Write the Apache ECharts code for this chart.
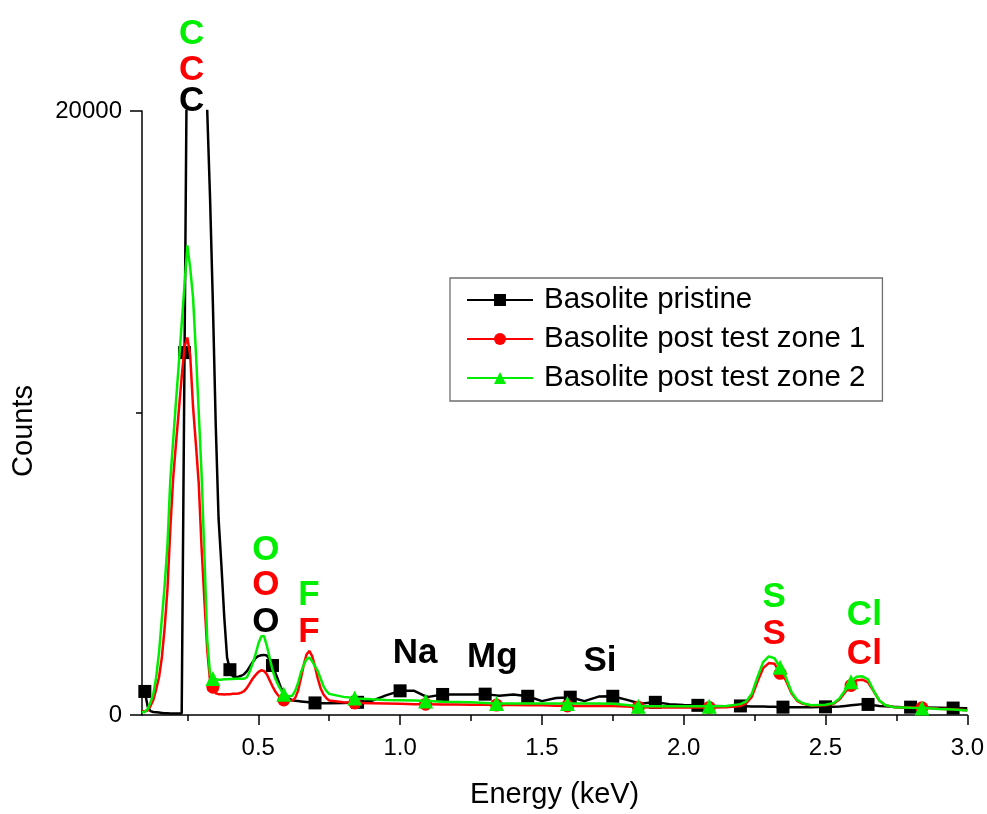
<!DOCTYPE html>
<html><head><meta charset="utf-8">
<script src="https://cdn.jsdelivr.net/npm/echarts@6/dist/echarts.min.js"></script>
<style>html,body{margin:0;padding:0;background:#fff}#c{width:987px;height:814px}</style>
</head><body><div id="c"></div>
<script>
// Energy grid (keV)
const energy = [
  0.09,0.10,0.11,0.12,0.13,0.14,0.15,0.16,0.17,0.18,0.19,0.20,0.21,0.22,0.23,0.24,0.25,0.26,0.27,0.28,
  0.29,0.30,0.31,0.32,0.33,0.34,0.35,0.36,0.37,0.38,0.39,0.40,0.41,0.42,0.43,0.44,0.45,0.46,0.47,0.48,
  0.49,0.50,0.51,0.52,0.53,0.54,0.55,0.56,0.57,0.58,0.59,0.60,0.61,0.62,0.63,0.64,0.65,0.66,0.67,0.68,
  0.69,0.70,0.71,0.72,0.73,0.74,0.75,
  0.80,0.84,0.85,0.90,0.95,1.00,1.05,1.09,1.10,1.15,1.20,1.25,1.30,1.34,1.35,1.40,1.45,1.50,1.55,1.59,
  1.60,1.65,1.70,1.75,1.80,1.84,1.85,1.90,1.95,2.00,2.05,2.09,2.10,2.15,2.20,
  2.22,2.24,2.26,2.28,2.30,2.32,2.34,2.35,2.36,2.38,2.40,2.42,2.45,2.50,2.53,2.55,2.57,2.59,2.61,2.63,
  2.65,2.67,2.69,2.71,2.74,2.77,2.80,2.84,2.85,2.90,2.95,3.00
];
// Counts: Basolite pristine
const pristine = [
  850,780,280,130,100,90,80,70,60,60,50,50,50,50,60,12000,24000,30000,32000,31000,
  28000,25000,22000,20000,17100,13600,9600,6500,4960,3250,1900,1500,1280,1250,1270,1300,1350,1450,1600,1750,
  1880,1950,1980,1990,1970,1850,1640,1400,1150,900,720,600,530,490,470,460,450,440,430,420,
  410,400,400,390,390,390,390,
  400,410,420,470,650,800,800,620,600,680,680,680,690,650,640,680,620,460,560,580,
  590,460,610,620,500,400,380,420,360,330,320,300,300,290,300,
  290,280,280,280,270,270,260,260,260,260,260,260,260,270,270,280,300,320,340,360,
  350,320,300,290,270,260,260,250,250,240,230,220
];
// Counts: Basolite post test zone 1
const zone1 = [
  130,120,150,300,500,850,1250,1900,2900,4200,6200,7850,9000,10100,11200,12200,12500,11900,10200,8970,
  7680,5550,3800,2160,1120,920,720,690,690,680,690,690,700,700,710,740,790,900,1050,1200,
  1320,1420,1480,1460,1350,1150,950,780,650,560,500,480,470,480,560,800,1200,1650,2000,2120,
  1950,1600,1200,880,680,560,480,
  420,400,400,390,380,370,360,360,360,350,350,340,340,330,330,330,320,320,310,300,
  300,300,310,300,280,260,260,250,250,250,250,250,250,260,300,
  380,600,1100,1550,1720,1700,1380,1300,1150,720,470,370,310,320,380,520,760,980,1150,1170,
  1080,780,470,330,260,250,250,240,240,210,190,160
];
// Counts: Basolite post test zone 2
const zone2 = [
  100,100,200,420,700,1250,2070,3190,4300,5680,7820,9100,10400,11660,12970,14250,15550,14800,13820,12020,
  10050,7980,5290,2500,1350,1210,1180,1170,1170,1180,1180,1190,1190,1200,1200,1200,1200,1250,1450,1700,
  2000,2350,2600,2620,2300,1900,1500,1200,1000,820,690,640,620,640,800,1050,1400,1650,1850,1900,
  1780,1620,1450,1200,950,800,700,
  600,560,550,520,500,490,480,460,460,440,430,420,400,380,380,380,380,380,380,380,
  380,380,380,370,330,290,290,290,290,290,290,290,290,300,360,
  450,700,1250,1750,1940,1880,1580,1450,1250,760,500,390,320,340,400,560,830,1100,1270,1280,
  1180,800,480,330,260,250,240,230,230,200,180,150
];
// Energies where the markers sit
const pristineMarkers = [0.10,0.24,0.40,0.55,0.70,0.85,1.00,1.15,1.30,1.45,1.60,1.75,1.90,2.05,2.20,2.35,2.50,2.65,2.80,2.95];
const zoneMarkers = [0.34,0.59,0.84,1.09,1.34,1.59,1.84,2.09,2.34,2.59,2.84];
const seriesNames = ['Basolite pristine','Basolite post test zone 1','Basolite post test zone 2'];
// Axis ticks
const xTickValues = [0.5,1.0,1.5,2.0,2.5,3.0];
const xMinorTickValues = [0.25,0.75,1.25,1.75,2.25,2.75];
// Peak labels (text, colour, energy keV, counts)
const peakText   = ['C','C','C','O','O','O','F','F','Na','Mg','Si','S','S','Cl','Cl'];
const peakColor  = ['#00ee00','#ff0000','#000000','#00ee00','#ff0000','#000000','#00ee00','#ff0000','#000000','#000000','#000000','#00ee00','#ff0000','#00ee00','#ff0000'];
const peakEnergy = [0.265,0.265,0.265,0.527,0.527,0.527,0.679,0.679,1.053,1.325,1.705,2.319,2.319,2.637,2.637];
const peakCounts = [22540,21360,20330,5465,4280,3070,3955,2740,2050,1920,1790,3890,2670,3300,2020];

const FONT = '"Liberation Sans", Arial, sans-serif';
const chart = echarts.init(document.getElementById('c'), null, {renderer:'canvas'});

function mk(vals){ return energy.map((e,i)=>[e, vals[i]]); }
function sizeFn(list, s){
  const set = new Set(list.map(v=>v.toFixed(2)));
  return function(val){ return set.has(val[0].toFixed(2)) ? s : 0; };
}
const colors = ['#000000','#ff0000','#00ee00'];
const symbols = ['rect','circle','triangle'];
const sizes = [13,13,15];
const datas = [pristine, zone1, zone2];
const markerLists = [pristineMarkers, zoneMarkers, zoneMarkers];

const series = seriesNames.map((n,k)=>({
  name:n, type:'line', xAxisIndex:0, yAxisIndex:0,
  data: mk(datas[k]),
  symbol: symbols[k],
  symbolSize: sizeFn(markerLists[k], sizes[k]),
  showSymbol:true, showAllSymbol:true,
  itemStyle:{color:colors[k]},
  lineStyle:{color:colors[k], width:2.5},
  clip:true, z: 2+k,
  emphasis:{disabled:true},
  animation:false
}));

const axisLineStyle = {color:'#000', width:1.5};
chart.setOption({
  animation:false,
  backgroundColor:'#fff',
  grid:{left:142, right:19, top:111, bottom:93, containLabel:false},
  legend:{
    orient:'vertical', left:450, top:278,
    padding:[6,17,7,16],
    borderColor:'#6f6f6f', borderWidth:1.3,
    itemWidth:66, itemHeight:15, itemGap:7,
    textStyle:{fontSize:29.5, fontFamily:FONT, color:'#000', lineHeight:32, padding:[0,0,0,6]},
    data:seriesNames
  },
  xAxis:[{
    type:'value', min:0.09, max:3.0, position:'bottom',
    name:'Energy (keV)', nameLocation:'middle', nameGap:65,
    nameTextStyle:{fontSize:29, fontFamily:FONT, color:'#000'},
    axisLine:{show:true, onZero:false, lineStyle:axisLineStyle},
    axisTick:{show:true, inside:false, length:10, lineStyle:axisLineStyle, customValues:xTickValues},
    axisLabel:{show:true, margin:21, fontSize:24, fontFamily:FONT, color:'#000', customValues:xTickValues,
      formatter:v=>Number(v).toFixed(1)},
    splitLine:{show:false}
  },{
    type:'value', min:0.09, max:3.0, position:'bottom',
    axisLine:{show:false},
    axisTick:{show:true, inside:false, length:6, lineStyle:axisLineStyle, customValues:xMinorTickValues},
    axisLabel:{show:false},
    splitLine:{show:false}
  }],
  yAxis:{
    type:'value', min:0, max:20000, interval:20000, position:'left',
    name:'Counts', nameLocation:'middle', nameGap:104, nameRotate:90,
    nameTextStyle:{fontSize:29, fontFamily:FONT, color:'#000', padding:[0,36,0,0]},
    axisLine:{show:true, onZero:false, lineStyle:axisLineStyle},
    axisTick:{show:true, inside:false, length:12, lineStyle:axisLineStyle},
    minorTick:{show:true, splitNumber:2, length:6, lineStyle:axisLineStyle},
    axisLabel:{show:true, margin:20, fontSize:24, fontFamily:FONT, color:'#000', formatter:v=>String(v)},
    splitLine:{show:false}, minorSplitLine:{show:false}
  },
  series:series
});

const graphics = peakText.map((t,i)=>{
  const p = chart.convertToPixel({xAxisIndex:0, yAxisIndex:0}, [peakEnergy[i], peakCounts[i]]);
  return {type:'text', x:p[0], y:p[1], z:100,
    style:{text:t, fill:peakColor[i], font:'bold 35px '+FONT,
      textAlign:'center', textVerticalAlign:'middle', align:'center', verticalAlign:'middle'}};
});
chart.setOption({graphic:graphics});
</script>
</body></html>
